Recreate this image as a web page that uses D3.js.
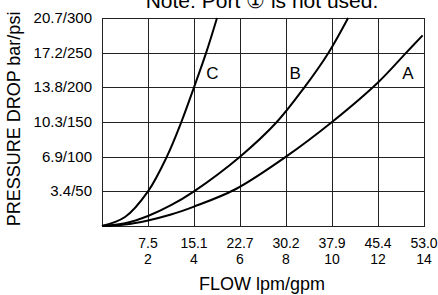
<!DOCTYPE html>
<html>
<head>
<meta charset="utf-8">
<script src="https://cdn.jsdelivr.net/npm/d3@7"></script>
<style>
  body { margin: 0; background: #fff; }
  text { font-family: "Liberation Sans", Arial, sans-serif; fill: #000; }
</style>
</head>
<body>
<div id="chart"></div>
<script>
// flow ticks (gpm) with matching lpm labels
const gpmTicks = [2, 4, 6, 8, 10, 12, 14];
const lpmLabels = ['7.5', '15.1', '22.7', '30.2', '37.9', '45.4', '53.0'];

// pressure ticks (psi) with bar/psi labels
const psiTicks = [50, 100, 150, 200, 250, 300];
const psiLabels = ['3.4/50', '6.9/100', '10.3/150', '13.8/200', '17.2/250', '20.7/300'];

// curves: [gpm, psi]
const curveA = [[0, 0], [1, 2], [2, 8], [3, 16.5], [4, 28], [5.8, 53], [8, 100], [10, 150], [12, 207], [13.2, 249], [13.94, 275]];
const curveB = [[0, 0], [1, 4], [2, 14.5], [3, 30], [4, 50], [6, 100], [7.6, 150], [8.8, 200], [9.85, 250], [10.7, 300]];
const curveC = [[0, 0], [1, 13], [2, 50], [2.82, 100], [3.45, 150], [4, 200], [4.53, 250], [5.0, 300]];

const curveNames = ['A', 'B', 'C'];
const labelGpm = [13.3, 8.4, 4.8];
const labelPsi = [221, 221, 221];

const width = 438, height = 295;
const margin = { top: 18, right: 14, bottom: 69, left: 102 };

const svg = d3.select('#chart').append('svg')
    .attr('width', width)
    .attr('height', height);

const x = d3.scaleLinear().domain([0, 14]).range([margin.left, width - margin.right]);
const y = d3.scaleLinear().domain([0, 300]).range([height - margin.bottom, margin.top]);

// grid
const grid = svg.append('g')
    .attr('stroke', '#222')
    .attr('stroke-width', 1);

grid.selectAll('.vline')
    .data([0, ...gpmTicks])
    .join('line')
    .attr('x1', d => Math.round(x(d)) + 0.5)
    .attr('x2', d => Math.round(x(d)) + 0.5)
    .attr('y1', y(300))
    .attr('y2', y(0));

grid.selectAll('.hline')
    .data([0, ...psiTicks])
    .join('line')
    .attr('y1', d => Math.round(y(d)) + 0.5)
    .attr('y2', d => Math.round(y(d)) + 0.5)
    .attr('x1', x(0))
    .attr('x2', x(14) + 1);

// tick labels
svg.append('g').selectAll('text')
    .data(psiTicks)
    .join('text')
    .attr('x', x(0) - 10)
    .attr('y', d => y(d) + 5)
    .attr('text-anchor', 'end')
    .style('font-size', '15px')
    .text((d, i) => psiLabels[i]);

const xt = svg.append('g').selectAll('text')
    .data(gpmTicks)
    .join('text')
    .attr('text-anchor', 'middle')
    .style('font-size', '14px');

xt.append('tspan')
    .attr('x', d => x(d))
    .attr('y', y(0) + 22)
    .text((d, i) => lpmLabels[i]);

xt.append('tspan')
    .attr('x', d => x(d))
    .attr('y', y(0) + 38)
    .text(d => d);

// curves
const line = d3.line()
    .x(d => x(d[0]))
    .y(d => y(d[1]))
    .curve(d3.curveCatmullRom.alpha(0.5));

svg.append('g').selectAll('path')
    .data([curveA, curveB, curveC])
    .join('path')
    .attr('d', line)
    .attr('fill', 'none')
    .attr('stroke', '#000')
    .attr('stroke-width', 2);

svg.append('g').selectAll('text')
    .data(curveNames)
    .join('text')
    .attr('x', (d, i) => x(labelGpm[i]))
    .attr('y', (d, i) => y(labelPsi[i]) + 6)
    .attr('text-anchor', 'middle')
    .style('font-size', '17px')
    .text(d => d);

// titles
svg.append('text')
    .attr('x', 262)
    .attr('y', 8)
    .attr('text-anchor', 'middle')
    .style('font-size', '21px')
    .text('Note: Port \u2460 is not used.');

svg.append('text')
    .attr('x', 262)
    .attr('y', 290)
    .attr('text-anchor', 'middle')
    .style('font-size', '18px')
    .text('FLOW lpm/gpm');

svg.append('text')
    .attr('transform', 'translate(19.5,119) rotate(-90)')
    .attr('text-anchor', 'middle')
    .style('font-size', '18px')
    .text('PRESSURE DROP bar/psi');
</script>
</body>
</html>
